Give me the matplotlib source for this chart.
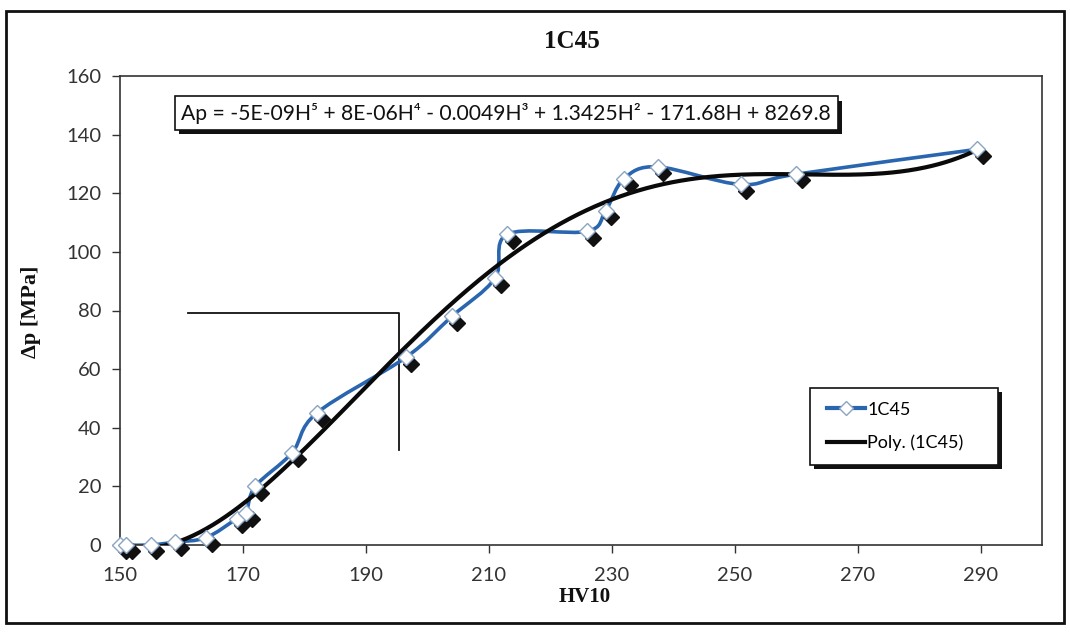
import numpy as np
import matplotlib
matplotlib.use("Agg")
import matplotlib.pyplot as plt
from matplotlib.path import Path
from matplotlib.patches import PathPatch, Rectangle
from matplotlib.lines import Line2D
from matplotlib.transforms import offset_copy
import matplotlib.patheffects as pe

# ---------------- data ----------------
hv = [150, 151, 155, 159, 164, 169, 170.5, 172, 178, 182, 196.5, 204, 211, 213,
      226, 229, 232, 237.5, 251, 260, 289.5]
ap = [0, 0, 0, 1, 2.5, 9, 11, 20, 31.5, 45, 64, 78, 91, 106,
      107, 114, 125, 129, 123, 126.5, 135]
x_ticks = [150, 170, 190, 210, 230, 250, 270, 290]
y_ticks = [0, 20, 40, 60, 80, 100, 120, 140, 160]
x_limits = [150, 300]
y_limits = [0, 160]
title_text = "1C45"
x_label = "HV10"
y_label = "Δp [MPa]"
series_name = "1C45"
trend_name = "Poly. (1C45)"
equation = "Ap = -5E-09H⁵ + 8E-06H⁴ - 0.0049H³ + 1.3425H² - 171.68H + 8269.8"
guide_x = [161, 195.4, 195.4]
guide_y = [79.3, 79.3, 32.4]
trend_degree = 5

BLUE = "#2a66b0"
CAL = ["Lato", "DejaVu Sans"]
TIMES = ["Liberation Serif", "DejaVu Serif"]

W, H = 1070, 633
fig = plt.figure(figsize=(W / 100, H / 100), dpi=100)
fig.patch.set_facecolor("white")

# outer chart frame
fig.patches.append(Rectangle((6 / W, 1 - 623 / H), 1058 / W, 612 / H,
                             transform=fig.transFigure, fill=False,
                             edgecolor="#111111", linewidth=2.0, zorder=0))

ax = fig.add_axes([120 / W, 1 - 545 / H, (1042 - 120) / W, (545 - 76) / H])
ax.set_xlim(*x_limits)
ax.set_ylim(*y_limits)
ax.set_xticks(x_ticks)
ax.set_yticks(y_ticks)
ax.tick_params(direction="out", length=5.5, width=1, colors="#333333",
               labelsize=14.5)
ax.tick_params(axis="x", pad=10)
ax.tick_params(axis="y", pad=8)
for lab in ax.get_xticklabels() + ax.get_yticklabels():
    lab.set_family(CAL)
for s in ax.spines.values():
    s.set_color("#333333")
    s.set_linewidth(1.2)

# Excel-like smoothed line (Catmull-Rom Bezier through the points)
X = np.asarray(hv, float)
Y = np.asarray(ap, float)
P = np.column_stack([X, Y])
Pe = np.vstack([P[0], P, P[-1]])
verts = [tuple(P[0])]
codes = [Path.MOVETO]
for i in range(len(P) - 1):
    p0, p1, p2, p3 = Pe[i], Pe[i + 1], Pe[i + 2], Pe[i + 3]
    c1 = p1 + (p2 - p0) / 6.0
    c2 = p2 - (p3 - p1) / 6.0
    verts += [tuple(c1), tuple(c2), tuple(p2)]
    codes += [Path.CURVE4] * 3
ax.add_patch(PathPatch(Path(verts, codes), facecolor="none", edgecolor=BLUE,
                       linewidth=2.6, zorder=2, capstyle="round",
                       joinstyle="round"))

# polynomial trendline (degree 5 least-squares fit of the series)
xm = X.mean()
coef = np.polyfit(X - xm, Y, trend_degree)
xt = np.linspace(X.min(), X.max(), 400)
ax.plot(xt, np.polyval(coef, xt - xm), color="#0a0a0a", linewidth=3.0,
        zorder=3, solid_capstyle="round")

# markers with black drop shadow
shadow_tr = offset_copy(ax.transData, fig=fig, x=4.0, y=-4.5, units="points")
ax.plot(hv, ap, linestyle="none", marker="D", ms=8.5, color="#111111",
        transform=shadow_tr, zorder=4, clip_on=False)
ax.plot(hv, ap, linestyle="none", marker="D", ms=8.5, markerfacecolor="white",
        markeredgecolor="#8aa4c4", markeredgewidth=1.0, zorder=5, clip_on=False)

# guide lines
ax.plot(guide_x, guide_y, color="#111111", linewidth=1.3, zorder=1)

# equation box
t = ax.text(160.0, 147.3, equation, family=CAL, fontsize=15.2, color="#111111",
            ha="left", va="center", zorder=6,
            bbox=dict(boxstyle="square,pad=0.3", facecolor="white",
                      edgecolor="#111111", linewidth=1.2))
t.get_bbox_patch().set_path_effects([
    pe.SimplePatchShadow(offset=(3, -3), shadow_rgbFace="#111111", alpha=1.0),
    pe.Normal()])

# legend frame (drawn separately for Excel-like padding) + entries
lx0, ly0, lx1, ly1 = 0.7484, 0.1706, 0.952, 0.3348
frame = Rectangle((lx0, ly0), lx1 - lx0, ly1 - ly0, transform=ax.transAxes,
                  facecolor="white", edgecolor="#111111", linewidth=1.2,
                  zorder=7)
frame.set_path_effects([
    pe.SimplePatchShadow(offset=(3, -3), shadow_rgbFace="#111111", alpha=1.0),
    pe.Normal()])
ax.add_patch(frame)
h1 = Line2D([], [], color=BLUE, linewidth=3, marker="D", ms=7,
            markerfacecolor="white", markeredgecolor="#8aa4c4")
h2 = Line2D([], [], color="#0a0a0a", linewidth=3)
leg = ax.legend([h1, h2], [series_name, trend_name], loc="center left",
                bbox_to_anchor=(lx0 + 0.018, (ly0 + ly1) / 2), frameon=False,
                prop={"family": CAL, "size": 13}, handlelength=2.1,
                handletextpad=0.15, labelspacing=0.95, borderpad=0.0,
                borderaxespad=0)
leg.set_zorder(8)

# titles / labels
fig.text(572 / W, 1 - 41 / H, title_text, family=TIMES, fontweight="bold",
         fontsize=18, ha="center", va="center", color="#111111")
fig.text(585 / W, 1 - 597 / H, x_label, family=TIMES, fontweight="bold",
         fontsize=15, ha="center", va="center", color="#111111")
fig.text(31 / W, 1 - 312 / H, y_label, family=TIMES, fontweight="bold",
         fontsize=16, ha="center", va="center", rotation=90, color="#111111")

fig.savefig("out.png", dpi=100, facecolor="white")
